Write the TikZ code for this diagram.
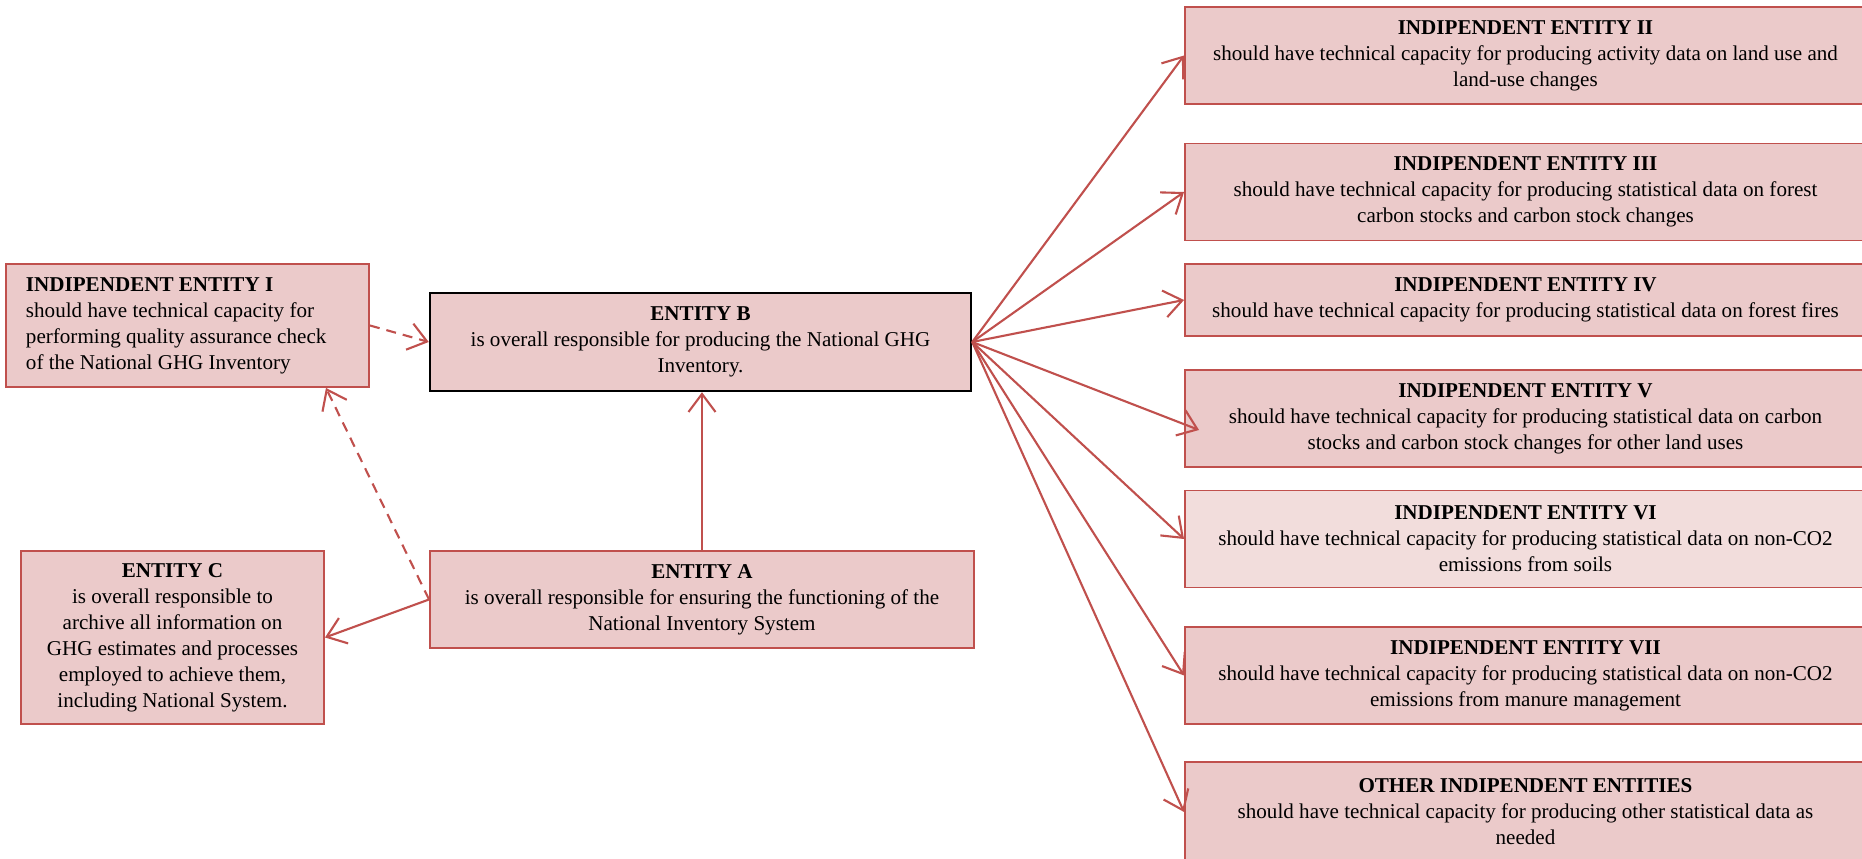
\documentclass[tikz,border=0pt]{standalone}
\usepackage{fontspec}
\setmainfont{Liberation Serif}
\usetikzlibrary{arrows.meta}
\definecolor{boxred}{RGB}{192,80,77}
\definecolor{boxfill}{RGB}{235,202,202}
\definecolor{boxpale}{RGB}{242,221,220}
\tikzset{
  entbox/.style={draw=boxred, line width=1.1pt, fill=boxfill, align=center, inner sep=0pt,
    font=\fontsize{12}{14.8}\selectfont},
  sidebox/.style={entbox, minimum width=13.62cm, minimum height=1.94cm},
  link/.style={draw=boxred, line width=1.2pt, -{Straight Barb[length=3.6mm,width=5.4mm]}},
  dlink/.style={link, dash pattern=on 0.2cm off 0.14cm}
}
\begin{document}
\begin{tikzpicture}[x=0.2mm, y=-0.2mm]
        \useasboundingbox (0,0) rectangle (1862,859);

        \node[entbox, align=flush left, text width=6.46cm, inner xsep=0.4cm, minimum height=2.46cm] (indI) at (187.5,325.5)
          {\textbf{INDIPENDENT ENTITY I}\\should have technical capacity for\\performing quality assurance check\\of the National GHG Inventory};
        \node[entbox, draw=black, line width=1.4pt, minimum width=10.82cm, minimum height=1.96cm] (entB) at (700.5,342)
          {\textbf{ENTITY B}\\is overall responsible for producing the National GHG\\Inventory.};
        \node[entbox, minimum width=10.88cm, minimum height=1.94cm] (entA) at (702,599.5)
          {\textbf{ENTITY A}\\is overall responsible for ensuring the functioning of the\\National Inventory System};
        \node[entbox, minimum width=6.06cm, minimum height=3.46cm] (entC) at (172.5,637.5)
          {\textbf{ENTITY C}\\is overall responsible to\\archive all information on\\GHG estimates and processes\\employed to achieve them,\\including National System.};

        \node[sidebox] (indII) at (1525.5,55.5)
          {\textbf{INDIPENDENT ENTITY II}\\should have technical capacity for producing activity data on land use and\\land-use changes};
        \node[sidebox] (indIII) at (1525.5,192)
          {\textbf{INDIPENDENT ENTITY III}\\should have technical capacity for producing statistical data on forest\\carbon stocks and carbon stock changes};
        \node[sidebox, minimum height=1.44cm] (indIV) at (1525.5,300)
          {\textbf{INDIPENDENT ENTITY IV}\\should have technical capacity for producing statistical data on forest fires};
        \node[sidebox] (indV) at (1525.5,418.5)
          {\textbf{INDIPENDENT ENTITY V}\\should have technical capacity for producing statistical data on carbon\\stocks and carbon stock changes for other land uses};
        \node[sidebox, fill=boxpale] (indVI) at (1525.5,539)
          {\textbf{INDIPENDENT ENTITY VI}\\should have technical capacity for producing statistical data on non-CO2\\emissions from soils};
        \node[sidebox] (indVII) at (1525.5,675.5)
          {\textbf{INDIPENDENT ENTITY VII}\\should have technical capacity for producing statistical data on non-CO2\\emissions from manure management};
        \node[sidebox, minimum height=2cm] (other) at (1525.5,812)
          {\textbf{OTHER INDIPENDENT ENTITIES}\\should have technical capacity for producing other statistical data as\\needed};

        \draw[dlink] (indI.east) -- (entB.west);
        \draw[dlink] (entA.west) -- ([xshift=-0.88cm]indI.south east);
        \draw[link] (entA.west) -- (entC.east);
        \draw[link] (entA.north) -- (entA.north |- entB.south);

        \foreach \t in {indII,indIII,indIV,indVI,indVII,other} {
          \draw[link] (entB.east) -- (\t.west);
        }
        \draw[link] (entB.east) -- ([xshift=0.3cm,yshift=-0.23cm]indV.west);
      \end{tikzpicture}
\end{document}
